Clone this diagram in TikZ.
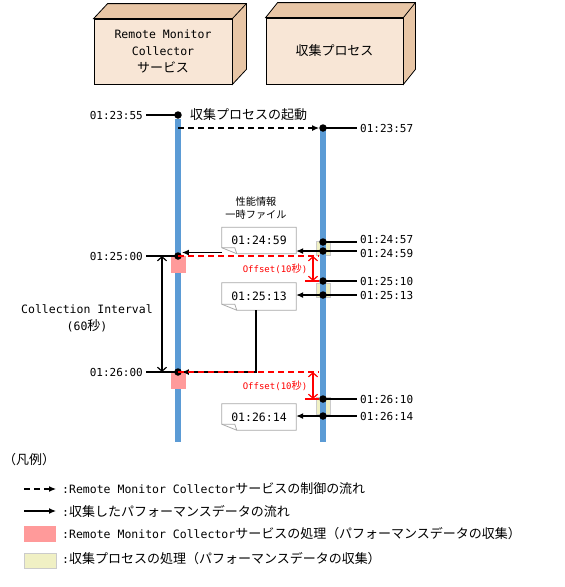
\documentclass[tikz,border=0pt]{standalone}
\usepackage{fontspec}
\setmainfont{DejaVu Sans Mono}
\newfontfamily\jp[Scale=1.13]{Noto Sans CJK JP}
\usetikzlibrary{arrows.meta,positioning}
\definecolor{lifeblue}{HTML}{5B9BD5}
\definecolor{boxfront}{HTML}{F8E6D6}
\definecolor{boxside}{HTML}{E8C6A6}
\definecolor{procpink}{HTML}{FF9A9A}
\definecolor{procyellow}{HTML}{F0F0C4}
\definecolor{notegray}{HTML}{A8A8A8}
\begin{document}
\begin{tikzpicture}[x=1pt,y=-1pt,
  every node/.style={font=\fontsize{11.5}{17}\selectfont, inner sep=0pt},
  tdot/.style={circle, fill, minimum size=7.5pt, inner sep=0pt},
  stamp/.style={inner xsep=3pt, font=\fontsize{11}{14}\selectfont},
  life/.style={lifeblue, line width=6pt},
  tline/.style={line width=1.2pt},
  flow/.style={line width=1.2pt, -{Latex[length=7pt,width=6pt]}},
  ctrl/.style={flow, dash pattern=on 6pt off 4pt},
  span/.style={line width=1.2pt, {Straight Barb[length=4pt,width=9pt]}-{Straight Barb[length=4pt,width=9pt]}},
  offs/.style={red, line width=1.2pt},
  small/.style={font=\fontsize{9}{13}\selectfont},
  memo/.style={minimum width=74pt, minimum height=26pt},
  box3d/.style={draw, fill=boxfront, line width=0.8pt, minimum width=138pt, minimum height=65pt, align=center}]
\useasboundingbox (0,0) rectangle (565,587);

% boxes
\node[box3d] (rmc) at (163,51.5) {Remote Monitor\\Collector\\{\jp サービス}};
\draw[fill=boxside, line width=0.8pt] (rmc.north west) -- ++(14,-15) -- ([shift={(14,-15)}]rmc.north east) -- ([shift={(14,-15)}]rmc.south east) -- (rmc.south east) -- (rmc.north east) -- cycle;
\draw[line width=0.8pt] (rmc.north east) -- ++(14,-15);
\node[box3d, minimum width=137pt, minimum height=66pt] (proc) at (334.5,51) {\jp 収集プロセス};
\draw[fill=boxside, line width=0.8pt] (proc.north west) -- ++(12,-15) -- ([shift={(12,-15)}]proc.north east) -- ([shift={(12,-15)}]proc.south east) -- (proc.south east) -- (proc.north east) -- cycle;
\draw[line width=0.8pt] (proc.north east) -- ++(12,-15);

% processing of the collect process
\fill[procyellow, draw=notegray!60] (316,241) rectangle (330,255);
\fill[procyellow, draw=notegray!60] (316,283) rectangle (330,297);
\fill[procyellow, draw=notegray!60] (316,397) rectangle (330,414);

% lifelines
\draw[life] (178,119) -- (178,442);
\draw[life] (323,128) -- (323,442);

% processing of the service
\fill[procpink] (171,256) rectangle (186,273);
\fill[procpink] (171,372) rectangle (186,389);

% points on the lifelines
\node[tdot] (l0) at (178,115) {};
\node[tdot] (l1) at (178,256) {};
\node[tdot] (l2) at (178,372) {};
\node[tdot] (r0) at (323,128) {};
\node[tdot] (r1) at (323,242) {};
\node[tdot] (r2) at (323,251) {};
\node[tdot] (r3) at (323,281) {};
\node[tdot] (r4) at (323,295) {};
\node[tdot] (r5) at (323,399) {};
\node[tdot] (r6) at (323,416) {};

% times
\node[stamp, anchor=east] (s0) at (146,115) {01:23:55};
\node[stamp, anchor=east] (s1) at (146,256) {01:25:00};
\node[stamp, anchor=east] (s2) at (146,372) {01:26:00};
\draw[tline] (s0.east) -- (l0.center);
\draw[tline] (s1.east) -- (l1.center);
\draw[tline] (s2.east) -- (l2.center);
\node[stamp, anchor=west] (e0) at (357,128) {01:23:57};
\node[stamp, anchor=west] (e1) at (357,239.5) {01:24:57};
\node[stamp, anchor=west] (e2) at (357,253) {01:24:59};
\node[stamp, anchor=west] (e3) at (357,281) {01:25:10};
\node[stamp, anchor=west] (e4) at (357,295) {01:25:13};
\node[stamp, anchor=west] (e5) at (357,399) {01:26:10};
\node[stamp, anchor=west] (e6) at (357,416) {01:26:14};
\foreach \i in {0,...,6}
  \draw[tline] (r\i.center) -- (r\i -| e\i.west);

% start of the collect process
\node[anchor=west] (start) at (190,115) {\jp 収集プロセスの起動};
\draw[ctrl] (l0 |- r0) -- (r0);

% temporary files
\node[small, align=center] (tmp) at (256,208.5) {\jp 性能情報\\\jp 一時ファイル};
\node[memo] (n1) at (259,240.5) {01:24:59};
\node[memo, minimum height=27pt] (n2) at (259,296.5) {01:25:13};
\node[memo] (n3) at (259,417) {01:26:14};
\foreach \n in {n1,n2,n3} {
  \draw[notegray, line width=0.8pt] (\n.north west) -- (\n.north east) -- (\n.south east) -- ([xshift=15pt]\n.south west) -- ([yshift=6pt]\n.south west) -- cycle;
  \draw[notegray, line width=0.8pt] ([xshift=15pt]\n.south west) -- ([xshift=13pt,yshift=6pt]\n.south west) -- ([yshift=6pt]\n.south west);
}
\draw[flow] (r2.center) -- (r2 -| n1.east);
\draw[flow] (r4.center) -- (r4 -| n2.east);
\draw[flow] (r6.center) -- (r6 -| n3.east);
\draw[flow] ([yshift=-12pt]n1.west) -- ([yshift=-12pt]n1.west -| l1.east);
\draw[tline] ([xshift=-3pt]n2.south) |- (l2.east);
\draw[flow] ([xshift=-3pt]n2.south |- l2) -- (l2.east);

% offsets
\draw[offs, dash pattern=on 6pt off 4pt] (l1.center) -- (l1 -| r3.west);
\draw[offs, dash pattern=on 6pt off 4pt] (l2.center) -- (l2 -| r5.west);
\draw[span, red] ([xshift=-10pt]l1 -| r3) -- ([xshift=-10pt]r3.center);
\draw[span, red] ([xshift=-10pt]l2 -| r5) -- ([xshift=-10pt]r5.center);
\draw[offs] ([xshift=-18pt]r3.center) -- (r3.west);
\draw[offs] ([xshift=-18pt]r5.center) -- (r5.west);
\node[small, red] (o1) at (275,269) {Offset(10{\jp 秒})};
\node[small, red] (o2) at (275,386) {Offset(10{\jp 秒})};

% collection interval
\draw[span] ([xshift=-16pt]l1.center) -- ([xshift=-16pt]l2.center);
\node[align=center] (ci) at (87,318) {Collection Interval\\(60{\jp 秒})};

% legend
\node[anchor=west] (lg) at (3,460) {\jp （凡例）};
\coordinate (d0) at (24,489);
\coordinate (d1) at (56,489);
\coordinate (f0) at (24,511);
\coordinate (f1) at (56,511);
\draw[ctrl] (d0) -- (d1);
\draw[flow] (f0) -- (f1);
\fill[procpink] (24,526) rectangle (56,542);
\fill[procyellow, draw=notegray!60, line width=1pt] (24,553) rectangle (56,568);
\node[anchor=west] (t0) at (62,489) {:Remote Monitor Collector{\jp サービスの制御の流れ}};
\node[anchor=west] (t1) at (62,511) {:{\jp 収集したパフォーマンスデータの流れ}};
\node[anchor=west] (t2) at (62,534) {:Remote Monitor Collector{\jp サービスの処理（パフォーマンスデータの収集）}};
\node[anchor=west] (t3) at (62,559) {:{\jp 収集プロセスの処理（パフォーマンスデータの収集）}};
\end{tikzpicture}
\end{document}
